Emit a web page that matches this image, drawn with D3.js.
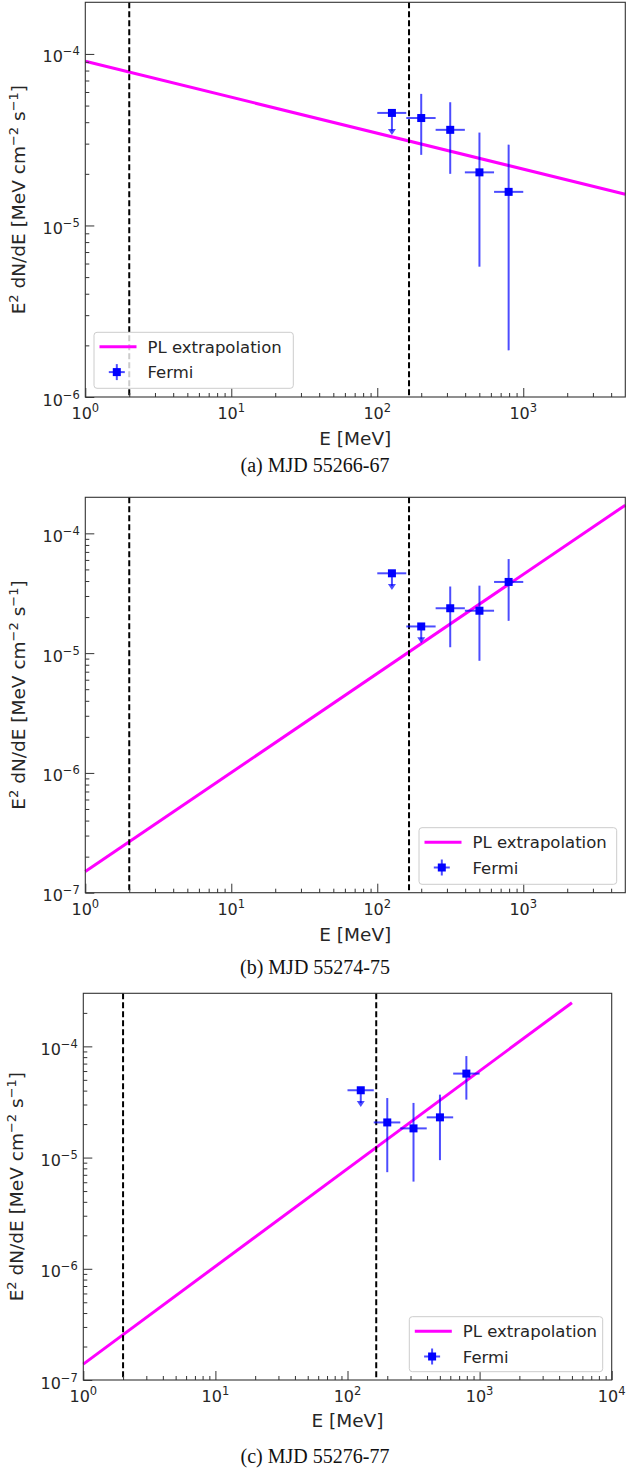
<!DOCTYPE html>
<html><head><meta charset="utf-8">
<script src="https://cdn.jsdelivr.net/npm/d3@7"></script>
<style>body{margin:0;background:#fff}</style>
</head><body>
<svg id="fig" width="627" height="1470" xmlns="http://www.w3.org/2000/svg"></svg>
<script>
// ---------------- DATA ----------------
const binEdges = [100, 158, 251, 398, 631, 1000];          // MeV, energy bins (x error bars)
const binCenters = [126, 200, 316, 501, 794];               // MeV

const fluxA    = [4.53e-5, 4.23e-5, 3.61e-5, 2.04e-5, 1.57e-5];
const fluxLoA  = [3.37e-5, 2.58e-5, 2.00e-5, 5.75e-6, 1.87e-6];
const fluxHiA  = [4.53e-5, 5.85e-5, 5.23e-5, 3.48e-5, 2.96e-5];
const ulA      = [true, false, false, false, false];

const fluxB    = [4.64e-5, 1.67e-5, 2.37e-5, 2.26e-5, 3.93e-5];
const fluxLoB  = [3.37e-5, 1.21e-5, 1.12e-5, 8.63e-6, 1.86e-5];
const fluxHiB  = [4.64e-5, 1.67e-5, 3.60e-5, 3.66e-5, 6.10e-5];
const ulB      = [true, true, false, false, false];

const fluxC    = [4.03e-5, 2.07e-5, 1.83e-5, 2.30e-5, 5.69e-5];
const fluxLoC  = [2.85e-5, 7.39e-6, 6.08e-6, 9.48e-6, 3.32e-5];
const fluxHiC  = [4.03e-5, 3.43e-5, 3.10e-5, 3.68e-5, 8.18e-5];
const ulC      = [true, false, false, false, false];

const plEnergy = [1, 5000];                                 // MeV, PL extrapolation endpoints
const plFluxA  = [9.06e-5, 1.52e-5];
const plFluxB  = [1.50e-7, 1.72e-4];
const plFluxC  = [1.39e-7, 2.47e-4];

const thresholds = [2, 165];                                // MeV, dashed vertical lines

const xTicksAB = [1, 10, 100, 1000];
const xTicksC  = [1, 10, 100, 1000, 10000];
const yTicksA  = [1e-6, 1e-5, 1e-4];
const yTicksBC = [1e-7, 1e-6, 1e-5, 1e-4];

const captions = ["(a) MJD 55266-67", "(b) MJD 55274-75", "(c) MJD 55276-77"];
const legendLabels = ["PL extrapolation", "Fermi"];
const xLabel = "E [MeV]";

// ---------------- LAYOUT ----------------
const panels = [
  {left: 85.3, right: 625.3, top: 2.3, bottom: 397, xDomain: [1, 5000], yDomain: [1e-6, 2e-4],
   xTicks: xTicksAB, yTicks: yTicksA, flux: fluxA, lo: fluxLoA, hi: fluxHiA, ul: ulA, pl: plFluxA,
   legend: {x: 94, y: 332.3, w: 199.3, h: 56}, caption: captions[0], capY: 472.3, ylabX: 24.5, xlabY: 445, xtickY: 419},
  {left: 85.3, right: 625.3, top: 497.3, bottom: 892.7, xDomain: [1, 5000], yDomain: [1e-7, 2e-4],
   xTicks: xTicksAB, yTicks: yTicksBC, flux: fluxB, lo: fluxLoB, hi: fluxHiB, ul: ulB, pl: plFluxB,
   legend: {x: 419, y: 827.7, w: 197.7, h: 56.6}, caption: captions[1], capY: 974, ylabX: 24.5, xlabY: 940.5, xtickY: 915},
  {left: 83.3, right: 611.7, top: 993.3, bottom: 1380, xDomain: [1, 10000], yDomain: [1e-7, 3e-4],
   xTicks: xTicksC, yTicks: yTicksBC, flux: fluxC, lo: fluxLoC, hi: fluxHiC, ul: ulC, pl: plFluxC,
   legend: {x: 409.3, y: 1316.7, w: 193.4, h: 55}, caption: captions[2], capY: 1463, ylabX: 23, xlabY: 1426.5, xtickY: 1401.5}
];

const SANS = "'DejaVu Sans', Verdana, sans-serif";
const SERIF = "'Liberation Serif', 'Times New Roman', serif";
const TXT = "#262626";
const BLUE = "#0000ff";
const EBLUE = "rgba(0,0,255,0.7)";

const svg = d3.select("#fig");

function expStr(v) {
  const e = Math.round(Math.log10(v));
  return (e < 0 ? "\u2212" : "") + Math.abs(e);
}

function minorTicks(domain) {
  const out = [];
  const lo = Math.floor(Math.log10(domain[0])), hi = Math.ceil(Math.log10(domain[1]));
  for (let d = lo; d <= hi; d++) {
    for (let k = 2; k <= 9; k++) {
      const v = k * Math.pow(10, d);
      if (v > domain[0] * 1.0001 && v < domain[1] * 0.9999) out.push(v);
    }
  }
  return out;
}

panels.forEach(p => {
  const x = d3.scaleLog().domain(p.xDomain).range([p.left, p.right]);
  const y = d3.scaleLog().domain(p.yDomain).range([p.bottom, p.top]);
  const g = svg.append("g");

  // PL extrapolation
  const plData = plEnergy.map((e, i) => [e, p.pl[i]]);
  g.append("path").datum(plData)
    .attr("d", d3.line().x(d => x(d[0])).y(d => y(d[1])))
    .attr("fill", "none").attr("stroke", "#ff00ff").attr("stroke-width", 3);

  // threshold dashed lines
  g.selectAll("line.thr").data(thresholds).enter().append("line")
    .attr("x1", d => x(d)).attr("x2", d => x(d))
    .attr("y1", p.top).attr("y2", p.bottom)
    .attr("stroke", "#000").attr("stroke-width", 2).attr("stroke-dasharray", "6,3");

  // Fermi points
  binCenters.forEach((e, i) => {
    const yc = y(p.flux[i]);
    g.append("line").attr("x1", x(binEdges[i])).attr("x2", x(binEdges[i + 1]))
      .attr("y1", yc).attr("y2", yc).attr("stroke", EBLUE).attr("stroke-width", 2);
    if (p.ul[i]) {
      const tip = y(p.lo[i]);
      g.append("line").attr("x1", x(e)).attr("x2", x(e)).attr("y1", yc).attr("y2", tip - 4)
        .attr("stroke", EBLUE).attr("stroke-width", 2);
      g.append("path")
        .attr("d", `M${x(e) - 4},${tip - 6} L${x(e) + 4},${tip - 6} L${x(e)},${tip} Z`)
        .attr("fill", EBLUE);
    } else {
      g.append("line").attr("x1", x(e)).attr("x2", x(e)).attr("y1", y(p.hi[i])).attr("y2", y(p.lo[i]))
        .attr("stroke", EBLUE).attr("stroke-width", 2);
    }
    g.append("rect").attr("x", x(e) - 4).attr("y", yc - 4).attr("width", 8).attr("height", 8)
      .attr("fill", BLUE);
  });

  // frame
  g.append("rect").attr("x", p.left).attr("y", p.top)
    .attr("width", p.right - p.left).attr("height", p.bottom - p.top)
    .attr("fill", "none").attr("stroke", "#333").attr("stroke-width", 1.1);

  // ticks
  const styleAxis = sel => { sel.select(".domain").remove(); sel.selectAll("line").attr("stroke", "#333"); };
  g.append("g").attr("transform", `translate(0,${p.bottom})`)
    .call(d3.axisBottom(x).tickValues(p.xTicks).tickSize(-9).tickFormat("")).call(styleAxis);
  g.append("g").attr("transform", `translate(0,${p.bottom})`)
    .call(d3.axisBottom(x).tickValues(minorTicks(p.xDomain)).tickSize(-4).tickFormat("")).call(styleAxis);
  g.append("g").attr("transform", `translate(${p.left},0)`)
    .call(d3.axisLeft(y).tickValues(p.yTicks).tickSize(-9).tickFormat("")).call(styleAxis);
  g.append("g").attr("transform", `translate(${p.left},0)`)
    .call(d3.axisLeft(y).tickValues(minorTicks(p.yDomain)).tickSize(-4).tickFormat("")).call(styleAxis);

  // tick labels
  p.xTicks.forEach(v => {
    const t = g.append("text").attr("x", x(v)).attr("y", p.xtickY).attr("text-anchor", "middle")
      .attr("font-family", SANS).attr("font-size", 16).attr("fill", TXT);
    t.append("tspan").text("10");
    t.append("tspan").attr("dy", -7).attr("font-size", 11.5).text(expStr(v));
  });
  p.yTicks.forEach(v => {
    const t = g.append("text").attr("x", p.left - 5.5).attr("y", y(v) + 8.5).attr("text-anchor", "end")
      .attr("font-family", SANS).attr("font-size", 16).attr("fill", TXT);
    t.append("tspan").text("10");
    t.append("tspan").attr("dy", -7).attr("font-size", 11.5).text(expStr(v));
  });

  // axis labels
  g.append("text").attr("x", (p.left + p.right) / 2).attr("y", p.xlabY).attr("text-anchor", "middle")
    .attr("font-family", SANS).attr("font-size", 18.5).attr("fill", TXT).text(xLabel);
  const yc = (p.top + p.bottom) / 2;
  const yl = g.append("text").attr("transform", `translate(${p.ylabX},${yc}) rotate(-90)`)
    .attr("text-anchor", "middle").attr("font-family", SANS).attr("font-size", 18.5).attr("fill", TXT);
  yl.append("tspan").text("E");
  yl.append("tspan").attr("dy", -7).attr("font-size", 13).text("2");
  yl.append("tspan").attr("dy", 7).text(" dN/dE [MeV cm");
  yl.append("tspan").attr("dy", -7).attr("font-size", 13).text("\u22122");
  yl.append("tspan").attr("dy", 7).text(" s");
  yl.append("tspan").attr("dy", -7).attr("font-size", 13).text("\u22121");
  yl.append("tspan").attr("dy", 7).text("]");

  // legend
  const L = p.legend;
  const lg = g.append("g");
  lg.append("rect").attr("x", L.x).attr("y", L.y).attr("width", L.w).attr("height", L.h)
    .attr("rx", 3).attr("fill", "rgba(255,255,255,0.8)").attr("stroke", "#cccccc").attr("stroke-width", 1);
  lg.append("line").attr("x1", L.x + 5.5).attr("x2", L.x + 42.5)
    .attr("y1", L.y + 14.5).attr("y2", L.y + 14.5).attr("stroke", "#ff00ff").attr("stroke-width", 3);
  lg.append("text").attr("x", L.x + 53.5).attr("y", L.y + 20.5).attr("font-family", SANS)
    .attr("font-size", 16.5).attr("fill", TXT).text(legendLabels[0]);
  const mx = L.x + 22.8, my = L.y + 39.8;
  lg.append("line").attr("x1", mx - 8).attr("x2", mx + 8).attr("y1", my).attr("y2", my)
    .attr("stroke", EBLUE).attr("stroke-width", 2);
  lg.append("line").attr("x1", mx).attr("x2", mx).attr("y1", my - 8).attr("y2", my + 8)
    .attr("stroke", EBLUE).attr("stroke-width", 2);
  lg.append("rect").attr("x", mx - 4).attr("y", my - 4).attr("width", 8).attr("height", 8).attr("fill", BLUE);
  lg.append("text").attr("x", L.x + 53.5).attr("y", L.y + 45.8).attr("font-family", SANS)
    .attr("font-size", 16.5).attr("fill", TXT).text(legendLabels[1]);

  // caption
  svg.append("text").attr("x", 315).attr("y", p.capY).attr("text-anchor", "middle")
    .attr("font-family", SERIF).attr("font-size", 20).attr("fill", "#111").text(p.caption);
});
</script>
</body></html>
